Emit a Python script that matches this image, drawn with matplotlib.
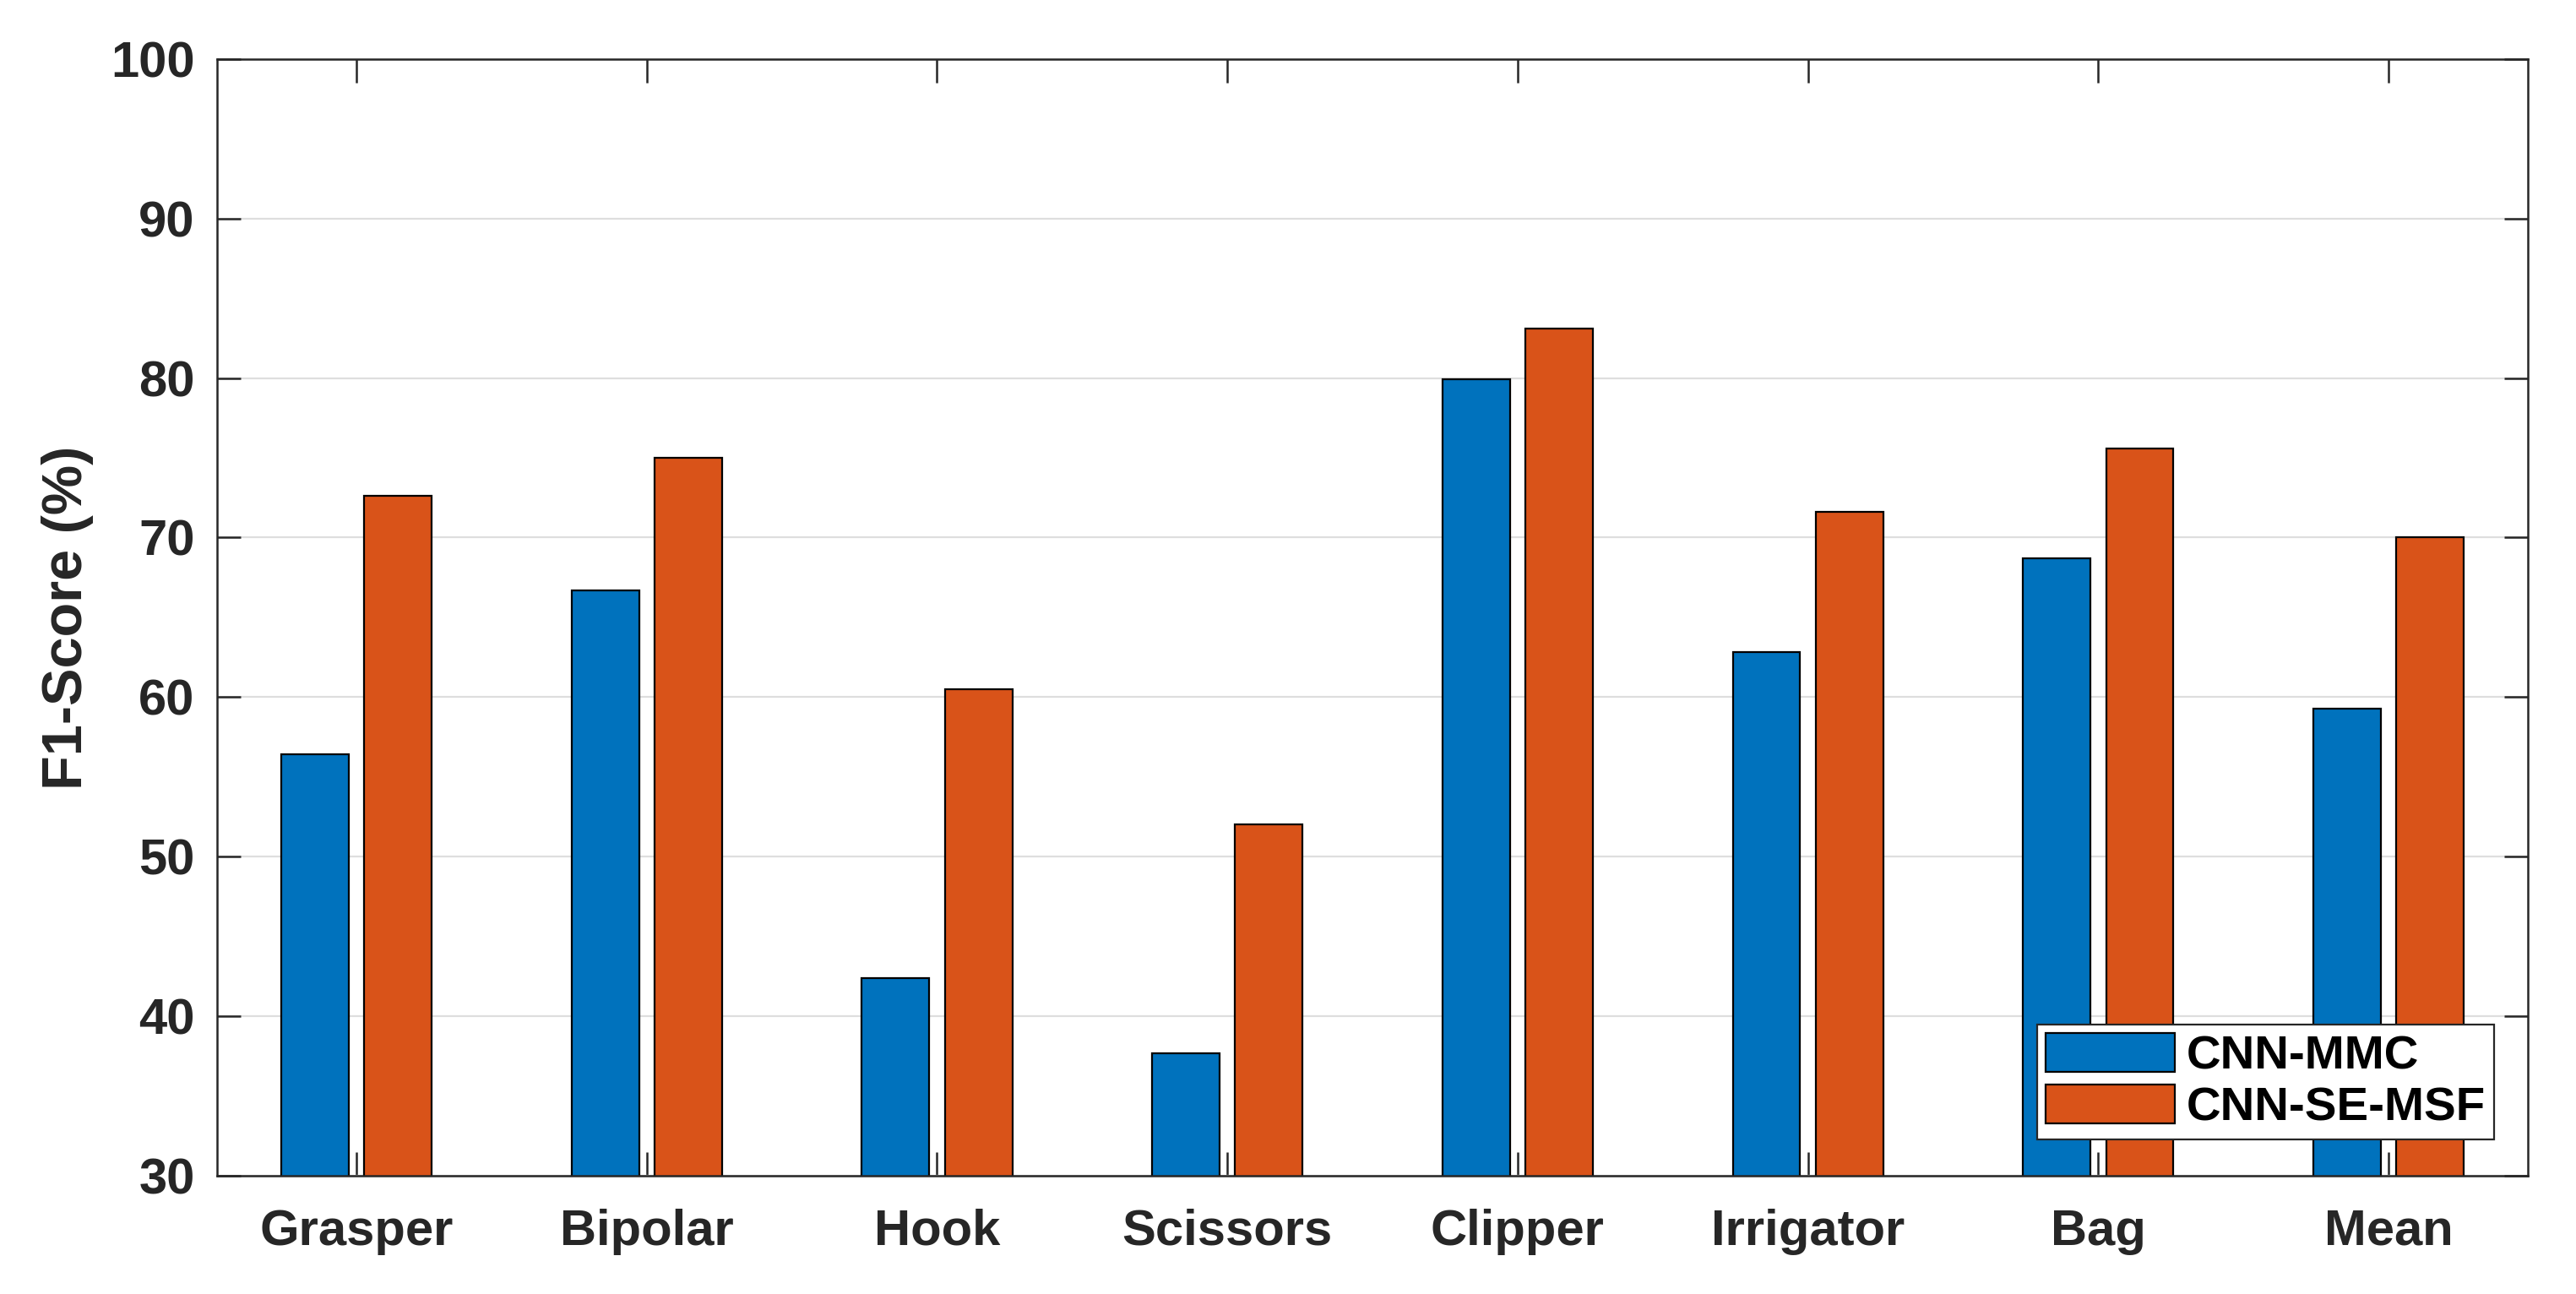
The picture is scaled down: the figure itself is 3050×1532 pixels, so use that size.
import numpy as np
import matplotlib
matplotlib.use("Agg")
import matplotlib.pyplot as plt

# F1-score per tool
categories = ['Grasper', 'Bipolar', 'Hook', 'Scissors', 'Clipper', 'Irrigator', 'Bag', 'Mean']
cnn_mmc = [56.4, 66.7, 42.4, 37.7, 79.9, 62.8, 68.7, 59.3]
cnn_se_msf = [72.6, 75.0, 60.5, 52.0, 83.1, 71.6, 75.6, 70.0]
series_names = ['CNN-MMC', 'CNN-SE-MSF']
y_ticks = [30, 40, 50, 60, 70, 80, 90, 100]

plt.rcParams['font.family'] = ['Liberation Sans', 'DejaVu Sans']
plt.rcParams['font.weight'] = 'bold'
text_color = '#262626'

fig = plt.figure(figsize=(15.25, 7.66), dpi=200)
ax = fig.add_axes([0.0843, 0.0914, 0.897, 0.863])

x = np.arange(1, len(categories) + 1)
w = 0.232
off = 0.143
ax.bar(x - off, cnn_mmc, w, color='#0072BD', edgecolor='black', linewidth=0.8,
       label=series_names[0], zorder=3)
ax.bar(x + off, cnn_se_msf, w, color='#D95319', edgecolor='black', linewidth=0.8,
       label=series_names[1], zorder=3)

ax.set_xlim(0.52, 8.48)
ax.set_ylim(30, 100)
ax.set_xticks(x)
ax.set_xticklabels(categories)
ax.set_yticks(y_ticks)

ax.yaxis.grid(True, color='#dedede', linewidth=0.8, zorder=0)
ax.set_axisbelow(True)

ax.tick_params(axis='both', direction='in', length=10, width=0.9, color=text_color,
               labelsize=21.5, labelcolor=text_color, top=True, right=True)
ax.tick_params(axis='x', pad=14)
ax.tick_params(axis='y', pad=9.5)
for s in ax.spines.values():
    s.set_color(text_color)
    s.set_linewidth(0.9)
    s.set_zorder(4)

ax.set_ylabel('F1-Score (%)', fontsize=24, fontweight='bold', color=text_color)
ax.yaxis.set_label_coords(-0.0535, 0.5)

leg = ax.legend(loc='lower right', bbox_to_anchor=(0.9854, 0.0325), borderaxespad=0,
                fontsize=20.3, handlelength=2.7, handleheight=0.88, handletextpad=0.25,
                labelspacing=0.12, borderpad=0.18, fancybox=False, framealpha=1)
leg.get_frame().set_edgecolor(text_color)
leg.get_frame().set_linewidth(0.8)
for t in leg.get_texts():
    t.set_color('black')

fig.savefig('out.png', dpi=200, facecolor='white')
